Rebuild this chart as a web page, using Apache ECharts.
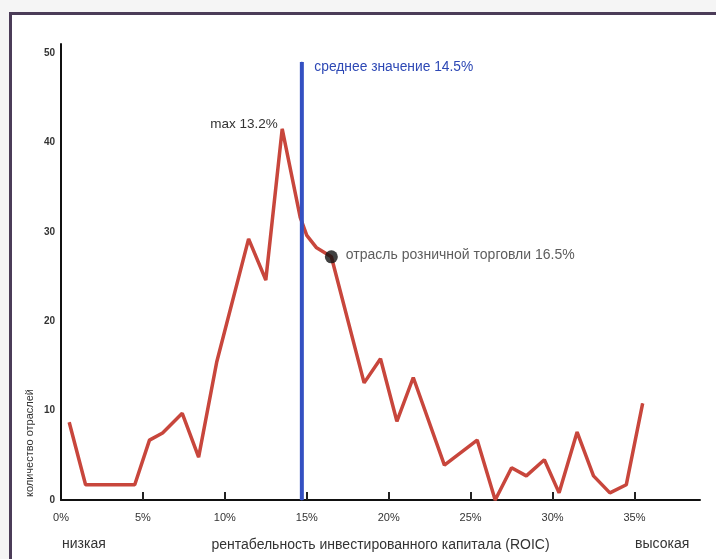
<!DOCTYPE html>
<html><head><meta charset="utf-8">
<script src="https://cdn.jsdelivr.net/npm/echarts@6/dist/echarts.min.js"></script>
<style>html,body{margin:0;padding:0;background:#f5f5f5}#c{width:716px;height:559px}</style>
</head><body><div id="c"></div>
<script>
// ROIC (%) and number of industries
const roicPct = [0.5,1.5,4.5,5.4,6.2,7.4,8.4,9.5,11.45,12.5,13.5,14.6,15.0,15.6,16.5,18.5,19.5,20.5,21.5,23.4,25.4,26.5,27.5,28.4,29.5,30.4,31.5,32.5,33.5,34.5,35.5];
const industryCount = [8.7,1.7,1.7,6.7,7.5,9.7,4.8,15.4,29.2,24.6,41.5,31.6,29.6,28.2,27.2,13.1,15.8,8.8,13.7,3.9,6.7,0,3.6,2.7,4.5,0.8,7.6,2.7,0.8,1.7,10.8];
const meanRoicPos = 14.7;   // where the mean line is drawn in the picture
const meanLineTop = 49;
const retailRoic = 16.5;
const retailCount = 27.2;
const xTickValues = [5, 10, 15, 20, 25, 30, 35];
const xLabelValues = [0, 5, 10, 15, 20, 25, 30, 35];
const yLabelValues = [0, 10, 20, 30, 40, 50];
const maxLabel = 'max 13.2%';
const meanLabel = 'среднее значение 14.5%';
const retailLabel = 'отрасль розничной торговли 16.5%';
const xTitle = 'рентабельность инвестированного капитала (ROIC)';
const yTitle = 'количество отраслей';
const lowLabel = 'низкая';
const highLabel = 'высокая';

const FONT = 'Liberation Sans, Arial, sans-serif';
const maxIdx = industryCount.indexOf(Math.max(...industryCount));
const lineData = roicPct.map((x, i) => {
  const item = { value: [x, industryCount[i]] };
  if (i === maxIdx) {
    item.label = { show: true, position: 'left', distance: 4, offset: [0, -5],
      formatter: maxLabel, color: '#333', fontSize: 13.5, fontFamily: FONT };
  }
  return item;
});

const chart = echarts.init(document.getElementById('c'));
chart.setOption({
  backgroundColor: 'transparent',
  animation: false,
  graphic: [
    { type: 'rect', z: -10, shape: { x: 10.5, y: 13.5, width: 720, height: 560 },
      style: { fill: '#ffffff', stroke: '#4b3c58', lineWidth: 3 } },
    { type: 'text', left: 62, top: 537, style: { text: lowLabel, fill: '#333', font: '14px ' + FONT } },
    { type: 'text', left: 635, top: 537, style: { text: highLabel, fill: '#333', font: '14px ' + FONT } },
    { type: 'text', x: 24, y: 497, rotation: Math.PI / 2, style: { text: yTitle, fill: '#333', font: '11px ' + FONT, textVerticalAlign: 'top' } }
  ],
  grid: { left: 61, right: 16, top: 44, bottom: 59, containLabel: false },
  xAxis: {
    type: 'value', min: 0, max: 39, interval: 5,
    name: xTitle, nameLocation: 'middle', nameGap: 38,
    nameTextStyle: { color: '#333', fontSize: 14, fontFamily: FONT },
    axisLine: { lineStyle: { color: '#111', width: 2 } },
    axisTick: { show: true, inside: true, length: 8, customValues: xTickValues, lineStyle: { color: '#222', width: 2 } },
    splitLine: { show: false },
    axisLabel: { color: '#333', fontSize: 11, fontFamily: FONT, margin: 12, customValues: xLabelValues,
      formatter: v => v + '%' }
  },
  yAxis: {
    type: 'value', min: 0, max: 51, interval: 10,
    axisLine: { show: true, lineStyle: { color: '#111', width: 2 } },
    axisTick: { show: false },
    splitLine: { show: false },
    axisLabel: { color: '#333', fontSize: 10, fontWeight: 'bold', fontFamily: FONT, margin: 6,
      customValues: yLabelValues }
  },
  series: [
    { type: 'line', data: lineData, symbol: 'circle', symbolSize: 1, showSymbol: true, z: 3,
      itemStyle: { color: '#c8463c' },
      lineStyle: { color: '#c8463c', width: 3.5 } },
    { type: 'line', symbol: 'circle', symbolSize: 1, showSymbol: true, z: 4,
      itemStyle: { color: '#3450c2' },
      data: [[meanRoicPos, 0], { value: [meanRoicPos, meanLineTop],
        label: { show: true, position: 'right', distance: 12, offset: [0, 5], formatter: meanLabel,
          color: '#2d48b5', fontSize: 13.8, fontFamily: FONT } }],
      lineStyle: { color: '#3450c2', width: 4 } },
    { type: 'scatter', z: 5, symbolSize: 13, itemStyle: { color: '#111' },
      data: [[retailRoic, retailCount]],
      label: { show: true, position: 'right', distance: 8, offset: [0, -2], formatter: retailLabel,
        color: '#333', fontSize: 14, fontFamily: FONT } }
  ]
});
</script></body></html>
